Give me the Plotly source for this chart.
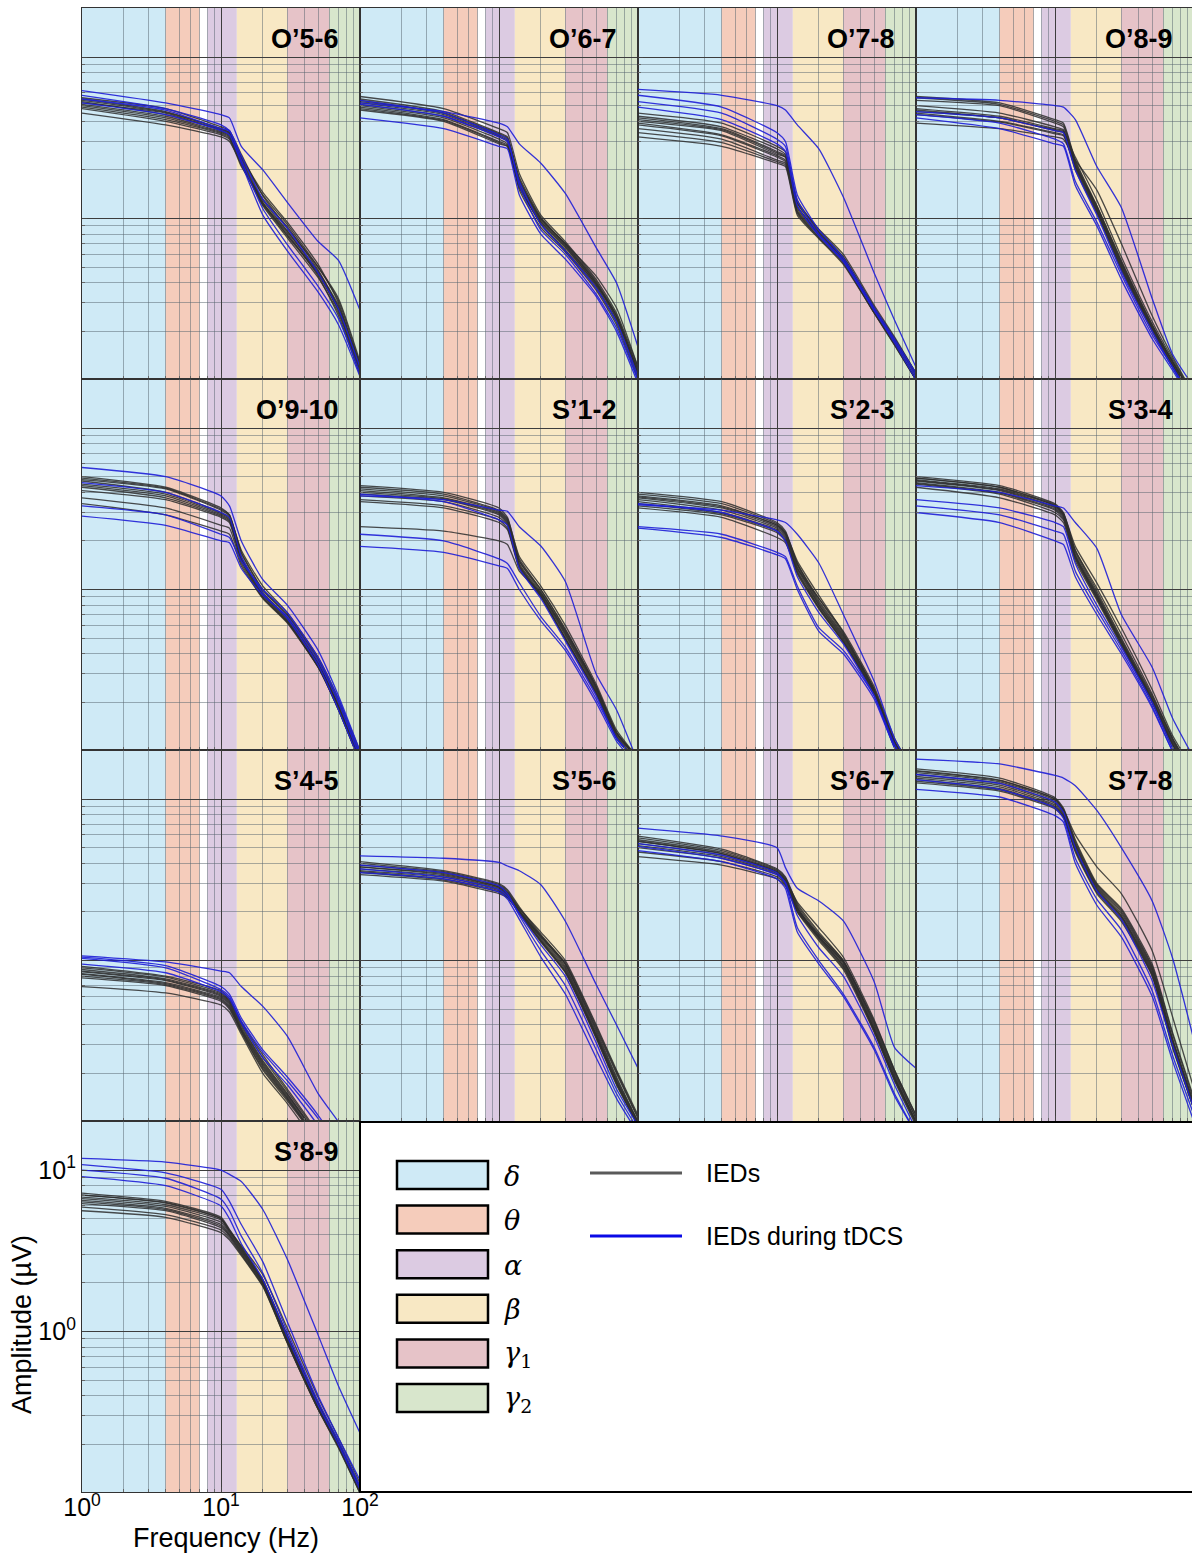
import plotly.graph_objects as go

W, H = 1192, 1555

FREQ = [1, 4, 10, 11.5, 14, 20, 30, 50, 70, 100]

TITLES = ["O’5-6", "O’6-7", "O’7-8", "O’8-9",
          "O’9-10", "S’1-2", "S’2-3", "S’3-4",
          "S’4-5", "S’5-6", "S’6-7", "S’7-8",
          "S’8-9"]

# ---- amplitude spectra (µV) : IEDs (gray) and IEDs during tDCS (blue) ----
O56_GRAY = [
    [5.6, 4.8, 3.7, 3.5, 2.5, 1.38, 0.87, 0.50, 0.32, 0.13],
    [5.2, 4.5, 3.5, 3.3, 2.3, 1.26, 0.79, 0.46, 0.28, 0.12],
    [5.0, 4.2, 3.4, 3.2, 2.2, 1.20, 0.76, 0.43, 0.26, 0.11],
    [4.8, 4.0, 3.3, 3.1, 2.1, 1.32, 0.89, 0.48, 0.28, 0.126],
    [5.5, 4.6, 3.6, 3.4, 2.4, 1.45, 0.95, 0.52, 0.30, 0.117],
    [4.5, 3.8, 3.2, 3.0, 2.2, 1.23, 0.81, 0.44, 0.25, 0.107],
    [5.3, 4.4, 3.55, 3.35, 2.35, 1.3, 0.84, 0.47, 0.29, 0.12],
    [5.1, 4.3, 3.45, 3.25, 2.25, 1.22, 0.78, 0.45, 0.27, 0.115],
    [5.4, 4.55, 3.6, 3.4, 2.4, 1.4, 0.92, 0.50, 0.31, 0.125],
    [4.9, 4.1, 3.35, 3.15, 2.15, 1.25, 0.83, 0.46, 0.27, 0.11],
]
O56_BLUE = [
    [6.2, 5.2, 4.4, 4.2, 2.8, 2.0, 1.26, 0.72, 0.55, 0.27],
    [5.5, 4.7, 3.6, 3.5, 2.3, 1.15, 0.69, 0.38, 0.24, 0.11],
    [5.2, 4.4, 3.5, 3.3, 2.2, 1.05, 0.63, 0.35, 0.22, 0.105],
    [5.8, 4.8, 3.8, 3.5, 2.45, 1.32, 0.87, 0.46, 0.275, 0.12],
]
O67_GRAY = [
    [5.7, 4.8, 3.6, 3.4, 1.9, 1.05, 0.72, 0.42, 0.26, 0.12],
    [5.3, 4.5, 3.3, 3.1, 1.7, 0.98, 0.68, 0.40, 0.24, 0.11],
    [5.0, 4.2, 3.1, 2.9, 1.6, 0.93, 0.64, 0.38, 0.23, 0.105],
    [4.7, 4.0, 2.9, 2.8, 1.5, 0.88, 0.62, 0.36, 0.22, 0.10],
    [5.5, 4.6, 3.4, 3.2, 1.75, 1.0, 0.70, 0.44, 0.28, 0.12],
    [4.9, 4.1, 3.0, 2.85, 1.55, 0.95, 0.66, 0.39, 0.25, 0.11],
    [5.4, 4.5, 3.35, 3.15, 1.72, 1.0, 0.70, 0.41, 0.25, 0.115],
    [5.1, 4.3, 3.2, 3.0, 1.65, 0.96, 0.67, 0.39, 0.24, 0.11],
    [5.2, 4.4, 3.25, 3.05, 1.8, 1.02, 0.69, 0.40, 0.25, 0.115],
    [4.8, 4.05, 2.95, 2.8, 1.58, 0.92, 0.63, 0.37, 0.23, 0.105],
]
O67_BLUE = [
    [5.2, 4.6, 3.9, 3.7, 2.9, 2.2, 1.43, 0.66, 0.40, 0.16],
    [5.4, 4.5, 3.3, 3.1, 1.6, 0.85, 0.60, 0.34, 0.21, 0.10],
    [4.2, 3.6, 2.8, 2.7, 1.4, 0.80, 0.56, 0.33, 0.20, 0.095],
    [5.1, 4.3, 3.2, 3.0, 1.7, 0.92, 0.63, 0.37, 0.23, 0.105],
]
O78_GRAY = [
    [4.5, 3.9, 2.8, 2.6, 1.3, 0.85, 0.58, 0.28, 0.18, 0.11],
    [4.2, 3.6, 2.6, 2.45, 1.2, 0.81, 0.56, 0.27, 0.175, 0.105],
    [3.9, 3.3, 2.45, 2.3, 1.15, 0.80, 0.55, 0.27, 0.17, 0.10],
    [3.6, 3.1, 2.3, 2.2, 1.1, 0.77, 0.54, 0.26, 0.17, 0.10],
    [3.2, 2.8, 2.2, 2.1, 1.05, 0.75, 0.52, 0.26, 0.165, 0.10],
    [4.0, 3.5, 2.5, 2.4, 1.25, 0.86, 0.60, 0.29, 0.185, 0.11],
    [4.3, 3.7, 2.7, 2.5, 1.25, 0.83, 0.57, 0.28, 0.18, 0.11],
    [3.8, 3.25, 2.4, 2.25, 1.12, 0.79, 0.55, 0.27, 0.17, 0.10],
    [3.4, 2.95, 2.25, 2.15, 1.08, 0.76, 0.53, 0.26, 0.165, 0.10],
    [4.1, 3.55, 2.55, 2.4, 1.18, 0.82, 0.57, 0.28, 0.18, 0.105],
]
O78_BLUE = [
    [6.3, 5.8, 5.0, 4.7, 3.8, 2.7, 1.36, 0.46, 0.235, 0.12],
    [5.8, 4.9, 3.4, 3.0, 1.4, 0.85, 0.57, 0.28, 0.18, 0.11],
    [5.3, 4.5, 3.1, 2.8, 1.3, 0.80, 0.55, 0.27, 0.175, 0.105],
    [4.9, 4.1, 2.9, 2.6, 1.2, 0.78, 0.54, 0.27, 0.17, 0.10],
]
O89_GRAY = [
    [5.7, 5.2, 4.1, 3.9, 2.3, 1.2, 0.55, 0.22, 0.13, 0.08],
    [5.4, 5.0, 3.9, 3.7, 2.2, 1.15, 0.52, 0.21, 0.13, 0.075],
    [4.8, 4.3, 3.6, 3.5, 2.1, 1.12, 0.50, 0.21, 0.125, 0.075],
    [4.5, 4.0, 3.4, 3.3, 2.0, 1.08, 0.48, 0.20, 0.12, 0.07],
    [3.9, 3.6, 3.2, 3.1, 2.3, 1.5, 0.70, 0.25, 0.14, 0.08],
    [4.6, 4.2, 3.5, 3.4, 2.4, 1.3, 0.58, 0.23, 0.135, 0.08],
    [5.6, 5.1, 4.0, 3.8, 2.25, 1.18, 0.53, 0.215, 0.13, 0.078],
    [4.7, 4.2, 3.55, 3.45, 2.05, 1.1, 0.49, 0.205, 0.123, 0.073],
    [5.0, 4.5, 3.7, 3.55, 2.15, 1.14, 0.51, 0.21, 0.125, 0.075],
    [4.4, 3.95, 3.35, 3.25, 2.1, 1.2, 0.54, 0.22, 0.13, 0.077],
]
O89_BLUE = [
    [5.6, 5.4, 5.0, 4.9, 4.1, 2.1, 1.17, 0.32, 0.145, 0.09],
    [4.4, 3.9, 3.1, 2.9, 1.7, 0.95, 0.45, 0.19, 0.12, 0.07],
    [4.2, 3.6, 2.9, 2.8, 1.6, 0.90, 0.42, 0.18, 0.115, 0.07],
    [4.6, 4.2, 3.5, 3.4, 2.0, 1.05, 0.47, 0.20, 0.12, 0.075],
]
O910_GRAY = [
    [5.0, 4.3, 3.2, 2.9, 1.7, 1.0, 0.70, 0.37, 0.20, 0.095],
    [4.7, 4.0, 3.0, 2.8, 1.6, 0.96, 0.67, 0.35, 0.19, 0.09],
    [4.4, 3.8, 2.9, 2.7, 1.55, 0.93, 0.65, 0.34, 0.19, 0.09],
    [4.1, 3.6, 2.8, 2.6, 1.5, 0.90, 0.63, 0.33, 0.18, 0.085],
    [3.4, 2.9, 2.3, 2.2, 1.4, 0.88, 0.62, 0.33, 0.18, 0.085],
    [4.8, 4.2, 3.1, 2.85, 1.75, 1.05, 0.72, 0.38, 0.21, 0.10],
    [4.9, 4.25, 3.15, 2.9, 1.68, 0.99, 0.69, 0.36, 0.20, 0.095],
    [4.5, 3.9, 2.95, 2.75, 1.58, 0.95, 0.66, 0.345, 0.19, 0.09],
    [4.3, 3.7, 2.85, 2.65, 1.52, 0.92, 0.64, 0.335, 0.185, 0.088],
    [3.7, 3.2, 2.5, 2.4, 1.45, 0.89, 0.63, 0.33, 0.18, 0.086],
]
O910_BLUE = [
    [5.7, 5.0, 3.8, 3.3, 2.0, 1.15, 0.80, 0.42, 0.22, 0.10],
    [3.3, 2.9, 2.2, 2.1, 1.5, 1.0, 0.72, 0.38, 0.21, 0.095],
    [2.85, 2.5, 2.0, 1.95, 1.35, 0.92, 0.68, 0.36, 0.20, 0.09],
    [4.6, 4.0, 3.0, 2.8, 1.6, 0.95, 0.66, 0.34, 0.18, 0.085],
]
S12_GRAY = [
    [4.4, 4.0, 3.2, 2.8, 1.55, 1.0, 0.56, 0.25, 0.13, 0.09],
    [4.1, 3.7, 3.0, 2.65, 1.45, 0.95, 0.53, 0.24, 0.125, 0.09],
    [3.8, 3.5, 2.8, 2.5, 1.4, 0.92, 0.50, 0.23, 0.12, 0.085],
    [3.5, 3.2, 2.6, 2.35, 1.35, 0.90, 0.49, 0.225, 0.12, 0.085],
    [2.45, 2.3, 2.0, 1.9, 1.3, 0.95, 0.55, 0.25, 0.13, 0.09],
    [4.3, 3.9, 3.1, 2.75, 1.6, 1.05, 0.60, 0.26, 0.135, 0.09],
    [4.2, 3.8, 3.05, 2.7, 1.5, 0.97, 0.54, 0.245, 0.128, 0.09],
    [3.9, 3.6, 2.9, 2.55, 1.42, 0.93, 0.52, 0.235, 0.123, 0.087],
    [3.6, 3.3, 2.7, 2.4, 1.38, 0.91, 0.50, 0.23, 0.12, 0.085],
    [4.0, 3.65, 2.95, 2.6, 1.5, 1.0, 0.57, 0.25, 0.13, 0.09],
]
S12_BLUE = [
    [3.8, 3.6, 3.1, 3.05, 2.45, 1.86, 1.12, 0.30, 0.18, 0.085],
    [2.2, 2.0, 1.55, 1.45, 1.1, 0.68, 0.44, 0.21, 0.12, 0.085],
    [1.85, 1.7, 1.4, 1.35, 1.0, 0.64, 0.42, 0.20, 0.115, 0.08],
    [3.9, 3.5, 2.7, 2.5, 1.35, 0.88, 0.48, 0.22, 0.12, 0.085],
]
S23_GRAY = [
    [4.0, 3.5, 2.6, 2.3, 1.45, 0.85, 0.52, 0.24, 0.115, 0.07],
    [3.7, 3.2, 2.45, 2.2, 1.38, 0.81, 0.50, 0.235, 0.11, 0.07],
    [3.5, 3.0, 2.35, 2.1, 1.3, 0.78, 0.48, 0.23, 0.11, 0.07],
    [3.3, 2.9, 2.25, 2.0, 1.25, 0.76, 0.47, 0.225, 0.105, 0.065],
    [3.2, 2.8, 2.1, 1.95, 1.35, 0.88, 0.55, 0.25, 0.12, 0.07],
    [3.9, 3.4, 2.55, 2.25, 1.5, 0.92, 0.54, 0.24, 0.115, 0.07],
    [3.8, 3.3, 2.5, 2.25, 1.42, 0.83, 0.51, 0.238, 0.113, 0.07],
    [3.6, 3.1, 2.4, 2.15, 1.34, 0.80, 0.49, 0.232, 0.11, 0.07],
    [3.4, 2.95, 2.3, 2.05, 1.28, 0.77, 0.475, 0.228, 0.108, 0.067],
    [3.75, 3.25, 2.5, 2.2, 1.45, 0.88, 0.53, 0.24, 0.113, 0.07],
]
S23_BLUE = [
    [3.35, 3.1, 2.7, 2.6, 2.2, 1.46, 0.70, 0.27, 0.12, 0.07],
    [2.45, 2.2, 1.7, 1.6, 1.05, 0.58, 0.42, 0.22, 0.11, 0.065],
    [2.4, 2.1, 1.64, 1.55, 1.0, 0.55, 0.40, 0.21, 0.105, 0.065],
    [3.4, 3.0, 2.3, 2.0, 1.2, 0.72, 0.46, 0.22, 0.105, 0.065],
]
S34_GRAY = [
    [5.0, 4.4, 3.4, 3.0, 1.75, 0.98, 0.50, 0.22, 0.12, 0.07],
    [4.8, 4.2, 3.3, 2.9, 1.65, 0.93, 0.48, 0.21, 0.115, 0.07],
    [4.6, 4.0, 3.15, 2.8, 1.6, 0.90, 0.47, 0.205, 0.11, 0.07],
    [4.5, 3.9, 3.0, 2.7, 1.55, 0.88, 0.46, 0.20, 0.11, 0.065],
    [4.9, 4.3, 3.3, 2.95, 1.85, 1.1, 0.58, 0.24, 0.125, 0.075],
    [4.3, 3.7, 2.9, 2.6, 1.5, 0.86, 0.45, 0.20, 0.105, 0.065],
    [4.9, 4.3, 3.35, 2.95, 1.7, 0.95, 0.49, 0.215, 0.118, 0.07],
    [4.7, 4.1, 3.2, 2.85, 1.62, 0.92, 0.475, 0.208, 0.113, 0.07],
    [4.55, 3.95, 3.1, 2.75, 1.58, 0.89, 0.465, 0.203, 0.11, 0.067],
    [4.75, 4.15, 3.25, 2.9, 1.75, 1.02, 0.53, 0.225, 0.12, 0.072],
]
S34_BLUE = [
    [4.4, 4.0, 3.3, 3.2, 2.6, 1.8, 0.70, 0.33, 0.16, 0.09],
    [3.6, 3.2, 2.6, 2.45, 1.45, 0.80, 0.44, 0.20, 0.105, 0.065],
    [3.3, 2.9, 2.3, 2.2, 1.3, 0.75, 0.42, 0.19, 0.10, 0.065],
    [3.0, 2.6, 2.0, 1.9, 1.2, 0.70, 0.40, 0.185, 0.10, 0.06],
]
S45_GRAY = [
    [0.92, 0.80, 0.65, 0.58, 0.42, 0.26, 0.16, 0.085, 0.05, 0.03],
    [0.88, 0.77, 0.62, 0.56, 0.40, 0.24, 0.15, 0.08, 0.05, 0.03],
    [0.85, 0.75, 0.60, 0.54, 0.38, 0.23, 0.145, 0.08, 0.05, 0.03],
    [0.82, 0.72, 0.58, 0.52, 0.37, 0.22, 0.14, 0.075, 0.045, 0.03],
    [0.78, 0.70, 0.56, 0.50, 0.36, 0.21, 0.135, 0.075, 0.045, 0.03],
    [0.69, 0.63, 0.53, 0.48, 0.35, 0.20, 0.13, 0.07, 0.045, 0.03],
    [0.90, 0.79, 0.63, 0.57, 0.41, 0.25, 0.155, 0.083, 0.05, 0.03],
    [0.86, 0.76, 0.61, 0.55, 0.39, 0.235, 0.148, 0.08, 0.048, 0.03],
    [0.83, 0.73, 0.59, 0.53, 0.375, 0.225, 0.142, 0.077, 0.046, 0.03],
    [0.80, 0.71, 0.57, 0.51, 0.365, 0.215, 0.138, 0.076, 0.045, 0.03],
]
S45_BLUE = [
    [1.07, 0.98, 0.86, 0.84, 0.69, 0.52, 0.34, 0.15, 0.10, 0.06],
    [1.05, 0.93, 0.69, 0.62, 0.44, 0.28, 0.19, 0.11, 0.07, 0.04],
    [1.03, 0.90, 0.66, 0.60, 0.42, 0.27, 0.18, 0.105, 0.065, 0.04],
    [0.95, 0.84, 0.64, 0.58, 0.41, 0.25, 0.17, 0.095, 0.06, 0.035],
]
S56_GRAY = [
    [4.1, 3.6, 3.0, 2.75, 2.15, 1.45, 0.95, 0.37, 0.19, 0.10],
    [3.9, 3.5, 2.9, 2.65, 2.05, 1.38, 0.90, 0.35, 0.18, 0.10],
    [3.7, 3.35, 2.8, 2.55, 2.0, 1.33, 0.86, 0.34, 0.175, 0.095],
    [3.55, 3.2, 2.7, 2.5, 1.95, 1.30, 0.84, 0.33, 0.17, 0.095],
    [3.4, 3.1, 2.6, 2.45, 2.0, 1.40, 0.95, 0.38, 0.20, 0.105],
    [3.8, 3.4, 2.85, 2.6, 2.1, 1.50, 1.00, 0.40, 0.21, 0.11],
    [4.0, 3.55, 2.95, 2.7, 2.1, 1.42, 0.92, 0.36, 0.185, 0.10],
    [3.8, 3.45, 2.85, 2.6, 2.02, 1.35, 0.88, 0.345, 0.178, 0.097],
    [3.6, 3.27, 2.75, 2.52, 1.97, 1.32, 0.85, 0.335, 0.172, 0.095],
    [3.5, 3.15, 2.65, 2.47, 2.02, 1.42, 0.97, 0.39, 0.205, 0.107],
]
S56_BLUE = [
    [4.45, 4.3, 4.05, 3.85, 3.6, 2.95, 1.75, 0.71, 0.40, 0.215],
    [3.9, 3.5, 2.9, 2.6, 1.9, 1.15, 0.70, 0.28, 0.15, 0.09],
    [3.5, 3.2, 2.65, 2.4, 1.8, 1.05, 0.62, 0.25, 0.14, 0.085],
    [3.7, 3.3, 2.75, 2.5, 1.95, 1.25, 0.80, 0.31, 0.16, 0.095],
]
S67_GRAY = [
    [5.9, 4.9, 3.7, 3.3, 2.25, 1.5, 1.0, 0.40, 0.20, 0.105],
    [5.6, 4.7, 3.6, 3.2, 2.15, 1.42, 0.95, 0.38, 0.19, 0.10],
    [5.3, 4.5, 3.5, 3.1, 2.1, 1.38, 0.92, 0.37, 0.185, 0.10],
    [5.0, 4.3, 3.4, 3.0, 2.0, 1.33, 0.88, 0.36, 0.18, 0.095],
    [4.4, 3.9, 3.2, 2.9, 2.0, 1.40, 0.98, 0.42, 0.21, 0.11],
    [5.5, 4.6, 3.55, 3.15, 2.3, 1.6, 1.05, 0.43, 0.21, 0.11],
    [5.75, 4.8, 3.65, 3.25, 2.2, 1.46, 0.97, 0.39, 0.195, 0.10],
    [5.45, 4.6, 3.55, 3.15, 2.12, 1.4, 0.93, 0.375, 0.188, 0.10],
    [5.15, 4.4, 3.45, 3.05, 2.05, 1.36, 0.90, 0.365, 0.183, 0.097],
    [4.7, 4.1, 3.3, 2.95, 2.05, 1.45, 1.0, 0.41, 0.205, 0.105],
]
S67_BLUE = [
    [6.6, 5.9, 5.0, 3.76, 2.8, 2.34, 1.76, 0.74, 0.29, 0.215],
    [5.3, 4.5, 3.5, 3.0, 1.6, 1.0, 0.62, 0.29, 0.15, 0.085],
    [4.8, 4.1, 3.2, 2.8, 1.5, 0.95, 0.60, 0.28, 0.145, 0.085],
    [5.1, 4.3, 3.4, 3.05, 1.9, 1.2, 0.80, 0.34, 0.17, 0.09],
]
S78_GRAY = [
    [15.4, 13.5, 10.2, 8.8, 5.6, 3.0, 2.1, 0.95, 0.36, 0.14],
    [14.6, 12.8, 9.8, 8.5, 5.3, 2.9, 2.0, 0.90, 0.33, 0.13],
    [13.8, 12.2, 9.4, 8.2, 5.1, 2.8, 1.9, 0.86, 0.32, 0.125],
    [13.2, 11.6, 9.0, 7.9, 4.9, 2.7, 1.85, 0.82, 0.30, 0.12],
    [12.6, 11.2, 8.7, 7.7, 4.7, 2.6, 1.75, 0.80, 0.29, 0.12],
    [14.9, 13.0, 10.0, 8.6, 6.0, 3.8, 2.6, 1.15, 0.45, 0.16],
    [15.0, 13.1, 10.0, 8.6, 5.45, 2.95, 2.05, 0.92, 0.35, 0.135],
    [14.2, 12.5, 9.6, 8.35, 5.2, 2.85, 1.95, 0.88, 0.325, 0.128],
    [13.5, 11.9, 9.2, 8.05, 5.0, 2.75, 1.88, 0.84, 0.31, 0.122],
    [12.9, 11.4, 8.85, 7.8, 4.8, 2.65, 1.8, 0.81, 0.295, 0.12],
]
S78_BLUE = [
    [17.7, 16.5, 14.0, 13.5, 12.1, 8.5, 5.0, 2.34, 1.04, 0.32],
    [13.2, 11.5, 8.8, 7.6, 4.3, 2.4, 1.55, 0.65, 0.26, 0.11],
    [11.5, 10.3, 7.9, 7.2, 4.0, 2.2, 1.4, 0.60, 0.24, 0.10],
    [14.2, 12.5, 9.6, 8.3, 5.0, 2.7, 1.8, 0.75, 0.30, 0.12],
]
S89_GRAY = [
    [7.2, 6.4, 5.1, 4.3, 3.35, 2.1, 0.95, 0.36, 0.21, 0.11],
    [6.8, 6.1, 4.9, 4.15, 3.25, 2.05, 0.92, 0.35, 0.20, 0.105],
    [6.5, 5.8, 4.6, 4.0, 3.15, 2.0, 0.88, 0.34, 0.20, 0.105],
    [6.2, 5.6, 4.4, 3.9, 3.05, 1.95, 0.86, 0.33, 0.195, 0.10],
    [5.6, 5.1, 4.1, 3.7, 2.95, 1.9, 0.85, 0.33, 0.19, 0.10],
    [7.0, 6.3, 5.0, 4.2, 3.4, 2.25, 1.05, 0.39, 0.22, 0.115],
    [7.0, 6.25, 5.0, 4.25, 3.3, 2.08, 0.94, 0.355, 0.205, 0.108],
    [6.65, 5.95, 4.75, 4.08, 3.2, 2.02, 0.9, 0.345, 0.2, 0.105],
    [6.35, 5.7, 4.5, 3.95, 3.1, 1.98, 0.87, 0.335, 0.198, 0.103],
    [5.9, 5.3, 4.25, 3.8, 3.0, 1.92, 0.85, 0.33, 0.192, 0.10],
]
S89_BLUE = [
    [11.8, 11.2, 10.0, 9.4, 8.5, 5.7, 2.8, 0.95, 0.46, 0.235],
    [10.8, 9.6, 7.6, 6.4, 4.6, 2.7, 1.15, 0.40, 0.22, 0.12],
    [10.0, 8.9, 6.6, 5.6, 3.9, 2.3, 1.0, 0.37, 0.21, 0.11],
    [9.1, 8.0, 6.0, 5.0, 3.5, 2.1, 0.93, 0.35, 0.20, 0.105],
]

GRAY_SETS = [O56_GRAY, O67_GRAY, O78_GRAY, O89_GRAY, O910_GRAY, S12_GRAY, S23_GRAY,
             S34_GRAY, S45_GRAY, S56_GRAY, S67_GRAY, S78_GRAY, S89_GRAY]
BLUE_SETS = [O56_BLUE, O67_BLUE, O78_BLUE, O89_BLUE, O910_BLUE, S12_BLUE, S23_BLUE,
             S34_BLUE, S45_BLUE, S56_BLUE, S67_BLUE, S78_BLUE, S89_BLUE]

# ---- frequency bands ----
BAND_LABELS = ["<i>δ</i>", "<i>θ</i>", "<i>α</i>", "<i>β</i>",
               "<i>γ</i><sub>1</sub>", "<i>γ</i><sub>2</sub>"]
BAND_LO = [1, 4, 8, 13, 30, 60]
BAND_HI = [4, 7, 13, 30, 60, 100]
BAND_COLORS = ["#cfeaf6", "#f5ccbb", "#dccbe2", "#f8e8c4", "#e6c3c8", "#d8e6cc"]

SERIES_NAMES = ["IEDs", "IEDs during tDCS"]
SERIES_COLORS = ["#5a5a5a", "#0a0ae6"]

X_TICKS = [1, 10, 100]
X_TICKTEXT = ["10<sup>0</sup>", "10<sup>1</sup>", "10<sup>2</sup>"]
X_MINOR = [2, 3, 4, 5, 6, 7, 8, 9, 20, 30, 40, 50, 60, 70, 80, 90]
Y_TICKS = [1, 10]
Y_TICKTEXT = ["10<sup>0</sup>", "10<sup>1</sup>"]
Y_MINOR = [0.2, 0.3, 0.4, 0.5, 0.6, 0.7, 0.8, 0.9, 2, 3, 4, 5, 6, 7, 8, 9, 20]

# ---- layout geometry (pixels) ----
COL_X0 = [82, 360, 638, 916]
PANEL_W = 278
ROW_TOP = [8, 379, 750, 1121]
PANEL_H = 371
Y_RANGE = [-0.994, 1.304]


def px(x):
    return x / W


def py(y):
    return 1 - y / H


fig = go.Figure()
layout = dict(width=W, height=H, margin=dict(l=0, r=0, t=0, b=0, autoexpand=False),
              paper_bgcolor="white", plot_bgcolor="rgba(0,0,0,0)", showlegend=False,
              font=dict(family="Liberation Sans, Arial, sans-serif", color="black"))
shapes = []
annotations = []

for i, title in enumerate(TITLES):
    r, c = divmod(i, 4)
    n = i + 1
    xs = "" if n == 1 else str(n)
    x0 = COL_X0[c]
    x1 = min(x0 + PANEL_W, W)
    top = ROW_TOP[r]
    bottom = top + PANEL_H
    is_corner = (i == 12)
    xr = 2.0 * (x1 - x0) / PANEL_W
    common = dict(type="log", automargin=False, tickmode="array",
                  showticklabels=is_corner, tickfont=dict(size=25),
                  ticks="inside", ticklen=5, tickcolor="#444",
                  showgrid=True, gridcolor="#3d3d3d", gridwidth=1,
                  showline=True, linecolor="#333", linewidth=1.2, mirror=True,
                  zeroline=False)
    layout["xaxis" + xs] = dict(
        common, range=[0, xr], domain=[px(x0), px(x1)], anchor="y" + xs,
        tickvals=X_TICKS, ticktext=X_TICKTEXT, ticklabelstandoff=-7,
        minor=dict(tickmode="array", tickvals=X_MINOR, showgrid=True,
                   gridcolor="rgba(85,100,110,0.5)", gridwidth=1,
                   ticks="inside", ticklen=3, tickcolor="#666"))
    layout["yaxis" + xs] = dict(
        common, range=Y_RANGE, domain=[py(bottom), py(top)], anchor="x" + xs,
        tickvals=Y_TICKS, ticktext=Y_TICKTEXT,
        minor=dict(tickmode="array", tickvals=Y_MINOR, showgrid=True,
                   gridcolor="rgba(85,100,110,0.5)", gridwidth=1,
                   ticks="inside", ticklen=3, tickcolor="#666"))

    # frequency bands: x in data units, y spanning the panel (paper units)
    for lo, hi, col in zip(BAND_LO, BAND_HI, BAND_COLORS):
        shapes.append(dict(type="rect", xref="x" + xs, yref="paper",
                           x0=lo, x1=hi, y0=py(bottom), y1=py(top),
                           fillcolor=col, line=dict(width=0), layer="below"))

    for vals in GRAY_SETS[i]:
        fig.add_trace(go.Scatter(x=FREQ, y=vals, mode="lines", xaxis="x" + xs, yaxis="y" + xs,
                                 line=dict(color="rgba(45,45,45,0.85)", width=1.3,
                                           shape="spline", smoothing=0.5),
                                 hoverinfo="skip"))
    for vals in BLUE_SETS[i]:
        fig.add_trace(go.Scatter(x=FREQ, y=vals, mode="lines", xaxis="x" + xs, yaxis="y" + xs,
                                 line=dict(color="rgba(30,30,215,0.9)", width=1.3,
                                           shape="spline", smoothing=0.5),
                                 hoverinfo="skip"))

    annotations.append(dict(text="<b>" + title + "</b>", xref="paper", yref="paper",
                            x=px(x0 + PANEL_W - 19), y=py(top + 31),
                            xanchor="right", yanchor="middle",
                            showarrow=False, font=dict(size=27, color="black")))

# axis titles
annotations.append(dict(text="Amplitude (µV)", xref="paper", yref="paper", x=px(22),
                        y=py(1325), textangle=-90, showarrow=False,
                        xanchor="center", yanchor="middle", font=dict(size=27)))
annotations.append(dict(text="Frequency (Hz)", xref="paper", yref="paper", x=px(226),
                        y=py(1538), showarrow=False, xanchor="center",
                        yanchor="middle", font=dict(size=27)))

# legend box
shapes.append(dict(type="rect", xref="paper", yref="paper", x0=px(360), x1=px(1195),
                   y0=py(1492), y1=py(1122), line=dict(color="black", width=2),
                   fillcolor="rgba(0,0,0,0)", layer="above"))
for k, (lab, col) in enumerate(zip(BAND_LABELS, BAND_COLORS)):
    yc = 1175 + k * 44.6
    shapes.append(dict(type="rect", xref="paper", yref="paper", x0=px(397), x1=px(488),
                       y0=py(yc + 14), y1=py(yc - 14), fillcolor=col,
                       line=dict(color="black", width=2.5), layer="above"))
    annotations.append(dict(text=lab, xref="paper", yref="paper", x=px(502), y=py(yc + 1),
                            xanchor="left", yanchor="middle", showarrow=False,
                            font=dict(size=27, family="DejaVu Serif, serif")))
for k, (name, col) in enumerate(zip(SERIES_NAMES, SERIES_COLORS)):
    yc = 1173 + k * 63
    shapes.append(dict(type="line", xref="paper", yref="paper", x0=px(590), x1=px(682),
                       y0=py(yc), y1=py(yc), line=dict(color=col, width=3), layer="above"))
    annotations.append(dict(text=name, xref="paper", yref="paper", x=px(704), y=py(yc),
                            xanchor="left", yanchor="middle", showarrow=False,
                            font=dict(size=25)))

layout["shapes"] = shapes
layout["annotations"] = annotations
fig.update_layout(**layout)
fig.write_html("out.html", config={"displayModeBar": False},
               post_script="document.body.style.margin='0px';"
                           "document.body.style.overflow='hidden';")
